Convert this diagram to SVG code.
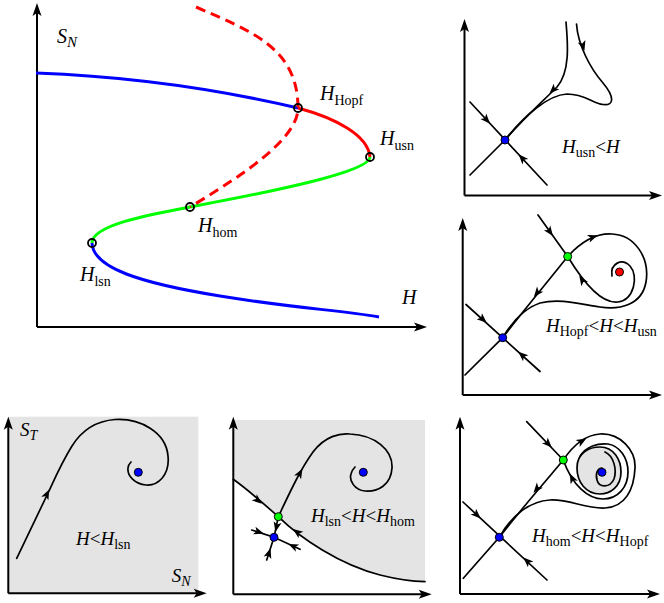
<svg xmlns="http://www.w3.org/2000/svg" width="664" height="603" viewBox="0 0 664 603">
<style>
text{font-family:"Liberation Serif","Times New Roman",serif;fill:#000}
.big{font-size:20px}
.pl{font-size:19px}
.sb{font-size:14px}
.it{font-style:italic}
.ax{fill:none;stroke:#000;stroke-width:2}
.br{fill:none;stroke-width:3}
.tr{fill:none;stroke:#000;stroke-width:1.7;stroke-linecap:round}
.pt{fill:none;stroke:#000;stroke-width:1.8}
.eq{stroke:#000;stroke-width:1}
.gray{fill:#e4e4e4}
</style>
<defs>
<path id="axh" d="M0,0 L-13,-4.5 L-10,0 L-13,4.5 Z"/>
<path id="ah" d="M5,0 L-5,-4 L-2.5,0 L-5,4 Z"/>
</defs>

<g id="main-diagram">
  <g id="main-axes">
    <path class="ax" d="M37,327 V9 M37,327 H421"/>
    <use href="#axh" transform="translate(37,3) rotate(-90)"/>
    <use href="#axh" transform="translate(427,327)"/>
  </g>
  <g id="branches">
    <path class="br" stroke="#0000ff" d="M36,73 Q170,78 298,108"/>
    <path class="br" stroke="#ff0000" d="M298,108 C335,118 368,135 370,157"/>
    <path class="br" stroke="#00ff00" d="M370,157 C370,172 270,192 190,207 C150,214.5 92,225 92,243"/>
    <path class="br" stroke="#0000ff" d="M92,243 C93,268 140,283 220,296 S340,310 379,317"/>
    <path class="br" stroke="#ff0000" stroke-dasharray="10,6" d="M196,7 C251,31 298,48 298,108 C298,138 245,174 190,207"/>
  </g>
  <g id="H_Hopf"><circle class="pt" cx="298" cy="108" r="4"/>
    <text class="big" x="320" y="100"><tspan class="it">H</tspan><tspan font-size="14" dy="5">Hopf</tspan></text></g>
  <g id="H_usn"><circle class="pt" cx="370" cy="157" r="4"/>
    <text class="big" x="380" y="145"><tspan class="it">H</tspan><tspan font-size="14" dy="5">usn</tspan></text></g>
  <g id="H_hom"><circle class="pt" cx="190" cy="207" r="4"/>
    <text class="big" x="198" y="232"><tspan class="it">H</tspan><tspan font-size="14" dy="5">hom</tspan></text></g>
  <g id="H_lsn"><circle class="pt" cx="92" cy="243" r="4"/>
    <text class="big" x="80" y="281"><tspan class="it">H</tspan><tspan font-size="14" dy="5">lsn</tspan></text></g>
  <text class="big" x="57" y="43"><tspan class="it">S</tspan><tspan class="it" font-size="15" dy="4">N</tspan></text>
  <text class="big it" x="402" y="304">H</text>
</g>

<g id="panel-usn">
  <path class="ax" d="M464.5,195.5 V25 M464.5,195.5 H656"/>
  <use href="#axh" transform="translate(464.5,19) rotate(-90)"/>
  <use href="#axh" transform="translate(662,195.5)"/>
  <g id="traj-usn">
    <path class="tr" d="M470,102 L547,185"/>
    <path class="tr" d="M470,175 L505,140"/>
    <path class="tr" d="M566,22 C568,45 570,72 557,87 C542,102 520,122 505,140"/>
    <path class="tr" d="M576.5,24 C578,45 590,68 603,83 C614,96 615,106 603,104.5 C592,103 585,94 567,94 C548,95 525,115 505,140"/>
    <use href="#ah" transform="translate(486.7,120) rotate(47)"/>
    <use href="#ah" transform="translate(522,158) rotate(227)"/>
    <use href="#ah" transform="translate(553,90) rotate(135)"/>
    <use href="#ah" transform="translate(583,46) rotate(73)"/>
  </g>
  <circle id="usn-saddle" class="eq" cx="505" cy="140" r="4" fill="#0000ff"/>
  <text class="pl" x="562" y="153"><tspan class="it">H</tspan><tspan class="sb" dy="4">usn</tspan><tspan dy="-4">&lt;</tspan><tspan class="it">H</tspan></text>
</g>

<g id="panel-hopf-usn">
  <path class="ax" d="M462.7,395 V224 M462.7,395 H656"/>
  <use href="#axh" transform="translate(462.7,218) rotate(-90)"/>
  <use href="#axh" transform="translate(662,395)"/>
  <g id="traj-hopf-usn">
    <path class="tr" d="M466,304.5 L540,371.5"/>
    <path class="tr" d="M465,375 L502.7,337.7 C520,315 545,285 567.7,256.5"/>
    <path class="tr" d="M538,215 L567.7,256.5"/>
    <path class="tr" d="M612,276 C610,263 622,258 630,266 C639,276 634,300 618,302 C602,304 585,285 567.7,256.5"/>
    <path class="tr" d="M567.7,256.5 C580,243 595,233 612,234 C635,235 650,258 646,282 C642,305 620,310 600,307 C580,304 560,298 540,303 C525,308 512,322 502.7,337.7"/>
    <use href="#ah" transform="translate(483,319.5) rotate(42)"/>
    <use href="#ah" transform="translate(522,355) rotate(222)"/>
    <use href="#ah" transform="translate(550,232) rotate(54)"/>
    <use href="#ah" transform="translate(537,293) rotate(129)"/>
    <use href="#ah" transform="translate(593,237) rotate(-20)"/>
    <use href="#ah" transform="translate(582,280) rotate(237)"/>
  </g>
  <circle id="hu-saddle1" class="eq" cx="502.7" cy="337.7" r="4" fill="#0000ff"/>
  <circle id="hu-saddle2" class="eq" cx="567.7" cy="256.5" r="4" fill="#00ff00"/>
  <circle id="hu-focus" class="eq" cx="619.5" cy="272" r="4" fill="#ff0000"/>
  <text class="pl" x="546" y="332"><tspan class="it">H</tspan><tspan class="sb" dy="4">Hopf</tspan><tspan dy="-4">&lt;</tspan><tspan class="it">H</tspan>&lt;<tspan class="it">H</tspan><tspan class="sb" dy="4">usn</tspan></text>
</g>

<g id="panel-hom-hopf">
  <path class="ax" d="M460,594 V423 M460,594 H654"/>
  <use href="#axh" transform="translate(460,416.7) rotate(-90)"/>
  <use href="#axh" transform="translate(660,594)"/>
  <path id="basin" class="gray" stroke="#000" stroke-width="1.7" d="M577,468 C577,452 590,447 600,447 C614,447 621,460 621,472 C621,487 610,494 600,494 C586,494 577,482 577,468 Z"/>
  <g id="traj-hom-hopf">
    <path class="tr" d="M463,502 L547,580"/>
    <path class="tr" d="M463.3,578.3 L499.3,537.3 C518,513 540,488 563.3,460"/>
    <path class="tr" d="M526.7,421.7 L563.3,460"/>
    <path class="tr" d="M580,456.4 C586,446 598,443 608,444 C620,446 628,458 628,472 C628,487 618,499 603,499 C588,499 572,485 563.3,460"/>
    <path class="tr" d="M605,452 C614,456 617,470 614,479 C610,488 599,488 597,480 C595,473 598,468 602,468"/>
    <path class="tr" d="M563.3,460 C572,447 585,435 600,434 C620,433 636,450 635,468 C634,490 625,507 605,508 C585,509 570,499 550,500 C530,501 512,515 499.3,537.3"/>
    <use href="#ah" transform="translate(477,515) rotate(43)"/>
    <use href="#ah" transform="translate(527,561) rotate(223)"/>
    <use href="#ah" transform="translate(548.3,444) rotate(46)"/>
    <use href="#ah" transform="translate(536.7,489) rotate(130)"/>
    <use href="#ah" transform="translate(582,441) rotate(-30)"/>
    <use href="#ah" transform="translate(572,478) rotate(243)"/>
  </g>
  <circle id="hh-saddle1" class="eq" cx="499.3" cy="537.3" r="4" fill="#0000ff"/>
  <circle id="hh-saddle2" class="eq" cx="563.3" cy="460" r="4" fill="#00ff00"/>
  <circle id="hh-focus" class="eq" cx="602" cy="472.3" r="4" fill="#0000ff"/>
  <text class="pl" x="532" y="541.7"><tspan class="it">H</tspan><tspan class="sb" dy="4">hom</tspan><tspan dy="-4">&lt;</tspan><tspan class="it">H</tspan>&lt;<tspan class="it">H</tspan><tspan class="sb" dy="4">Hopf</tspan></text>
</g>

<g id="panel-lsn-hom">
  <path class="gray" d="M233.3,420 H425 V581.7 C415,581.5 400,580 380,575 C340,565 300,538 278.3,516.7 C263,503 248,490 233.3,479.3 Z"/>
  <path class="ax" d="M233.3,594.3 V423 M233.3,594.3 H425"/>
  <use href="#axh" transform="translate(233.3,416.7) rotate(-90)"/>
  <use href="#axh" transform="translate(431.7,594.3)"/>
  <g id="traj-lsn-hom">
    <path class="tr" d="M233.3,479.3 C248,490 263,503 278.3,516.7 C300,538 340,565 380,575 C400,580 415,581.5 425,581.7"/>
    <path class="tr" d="M278.3,516.7 C290,492 300,470 313,452 C325,436 340,433 350,434 C375,435 393,450 392,468 C391,485 378,492 365,491 C354,490 349,480 351,474 C352,470 354,468 355,467"/>
    <path class="tr" d="M278.3,516.7 L274,537.3 M251.7,530 L274,537.3 L300,549.3 M266.7,560 L274,537.3"/>
    <use href="#ah" transform="translate(258,500.5) rotate(40)"/>
    <use href="#ah" transform="translate(297,532) rotate(217)"/>
    <use href="#ah" transform="translate(300,473) rotate(-61)"/>
    <use href="#ah" transform="translate(276.5,527) rotate(102)"/>
    <use href="#ah" transform="translate(259,532) rotate(18)"/>
    <use href="#ah" transform="translate(293,546) rotate(205)"/>
    <use href="#ah" transform="translate(269,553) rotate(-72)"/>
  </g>
  <circle id="lh-saddle" class="eq" cx="278.3" cy="516.7" r="4" fill="#00ff00"/>
  <circle id="lh-node" class="eq" cx="274" cy="537.3" r="4" fill="#0000ff"/>
  <circle id="lh-focus" class="eq" cx="363.3" cy="472.3" r="4" fill="#0000ff"/>
  <text class="pl" x="311" y="521.7"><tspan class="it">H</tspan><tspan class="sb" dy="4">lsn</tspan><tspan dy="-4">&lt;</tspan><tspan class="it">H</tspan>&lt;<tspan class="it">H</tspan><tspan class="sb" dy="4">hom</tspan></text>
</g>

<g id="panel-lsn">
  <rect class="gray" x="8.3" y="416.7" width="190" height="176.6"/>
  <path class="ax" d="M8.3,593.3 V423 M8.3,593.3 H200"/>
  <use href="#axh" transform="translate(8.3,416.7) rotate(-90)"/>
  <use href="#axh" transform="translate(206.7,593.3)"/>
  <g id="traj-lsn">
    <path class="tr" d="M16.7,558.3 L49,491 C55,478 62,462 72,446 C82,430 95,421 115,419.5 C140,418 166,432 168,456 C170,475 158,486 146,485 C135,484 127,476 128,468 C128,465 130,463 131,462"/>
    <use href="#ah" transform="translate(47,494) rotate(-64)"/>
  </g>
  <circle id="l-focus" class="eq" cx="138.3" cy="472.3" r="4" fill="#0000ff"/>
  <text class="pl" x="20" y="436"><tspan class="it">S</tspan><tspan class="it sb" dy="4">T</tspan></text>
  <text class="pl" x="76" y="545"><tspan class="it">H</tspan>&lt;<tspan class="it">H</tspan><tspan class="sb" dy="4">lsn</tspan></text>
  <text class="pl" x="171.7" y="582"><tspan class="it">S</tspan><tspan class="it sb" dy="4">N</tspan></text>
</g>
</svg>
